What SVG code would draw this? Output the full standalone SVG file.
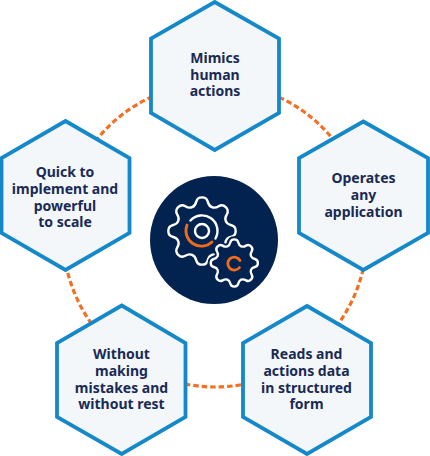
<svg xmlns="http://www.w3.org/2000/svg" width="430" height="456" viewBox="0 0 430 456">
<style>
.hex{fill:#f3f7f9;stroke:#1488c9;stroke-width:3.8;stroke-linejoin:miter}
.lbl{font-family:"Noto Sans","Open Sans",sans-serif;font-weight:700;font-size:14px;fill:#1a2a55;text-anchor:middle}
.gear{fill:none;stroke:#fff;stroke-width:2.4;stroke-linejoin:round;stroke-linecap:round}
.acc{fill:none;stroke:#f26a1b;stroke-width:2.8;stroke-linecap:round}
</style>
<defs>
<path id="cog" d="M33.67 0Q33.67 4.73 29.39 5.73Q25.11 6.73 23.81 9.87Q22.51 13 24.83 16.73Q27.15 20.46 23.81 23.81Q20.46 27.15 16.73 24.83Q13 22.51 9.87 23.81Q6.73 25.11 5.73 29.39Q4.73 33.67 0 33.67Q-4.73 33.67 -5.73 29.39Q-6.73 25.11 -9.87 23.81Q-13 22.51 -16.73 24.83Q-20.46 27.15 -23.81 23.81Q-27.15 20.46 -24.83 16.73Q-22.51 13 -23.81 9.87Q-25.11 6.73 -29.39 5.73Q-33.67 4.73 -33.67 0Q-33.67 -4.73 -29.39 -5.73Q-25.11 -6.73 -23.81 -9.87Q-22.51 -13 -24.83 -16.73Q-27.15 -20.46 -23.81 -23.81Q-20.46 -27.15 -16.73 -24.83Q-13 -22.51 -9.87 -23.81Q-6.73 -25.11 -5.73 -29.39Q-4.73 -33.67 0 -33.67Q4.73 -33.67 5.73 -29.39Q6.73 -25.11 9.87 -23.81Q13 -22.51 16.73 -24.83Q20.46 -27.15 23.81 -23.81Q27.15 -20.46 24.83 -16.73Q22.51 -13 23.81 -9.87Q25.11 -6.73 29.39 -5.73Q33.67 -4.73 33.67 0Z"/>
</defs>
<rect width="430" height="456" fill="#fff"/>
<g id="connectors"><circle cx="215" cy="235" r="152" fill="none" stroke="#f36f21" stroke-width="3.200" stroke-dasharray="5.500 3"/></g>
<g id="hub"><circle cx="214" cy="240" r="64" fill="#02234f"/>
<use href="#cog" class="gear" transform="translate(202 231)"/>
<use href="#cog" fill="#02234f" stroke="#02234f" stroke-width="9" transform="translate(234.300 263) scale(.7)"/>
<use href="#cog" class="gear" style="stroke-width:3.400" transform="translate(234.300 263) scale(.7)"/>
<circle class="gear" cx="202" cy="231" r="7"/>
<path class="gear" d="M190.500 220.500A15.500 15.500 0 0 1 215.500 238.500"/>
<path class="acc" d="M187 225A15.500 15.500 0 0 0 212 242"/>
<path class="acc" d="M240 260.500A6.500 6.500 0 1 0 239.500 267.500"/></g>
<g id="n1"><polygon class="hex" points="214.700,2 279,38.500 279,113 214.700,150 151,113 151,38.500"/>
<text class="lbl"><tspan x="215" y="63">Mimics</tspan><tspan x="215" y="80">human</tspan><tspan x="215" y="96">actions</tspan></text></g>
<g id="n2"><polygon class="hex" points="363.300,121.500 428,158 428,233 363.300,270 299,233 299,158"/>
<text class="lbl"><tspan x="363.500" y="183">Operates</tspan><tspan x="363.500" y="200">any</tspan><tspan x="363.500" y="217">application</tspan></text></g>
<g id="n3"><polygon class="hex" points="307,306 371,343 371,417 307,454 243,417 243,343"/>
<text class="lbl"><tspan x="306.500" y="359">Reads and</tspan><tspan x="306.500" y="376">actions data</tspan><tspan x="306.500" y="393">in structured</tspan><tspan x="306.500" y="409">form</tspan></text></g>
<g id="n4"><polygon class="hex" points="121.700,305.500 185.500,343 185.500,417 121.700,454 57,417 57,343"/>
<text class="lbl"><tspan x="121.500" y="359">Without</tspan><tspan x="121.500" y="376">making</tspan><tspan x="121.500" y="393">mistakes and</tspan><tspan x="121.500" y="409">without rest</tspan></text></g>
<g id="n5"><polygon class="hex" points="65.500,121 129.500,158 129.500,233 65.500,270 1.500,233 1.500,158"/>
<text class="lbl"><tspan x="65" y="177">Quick to</tspan><tspan x="65" y="194">implement and</tspan><tspan x="65" y="211">powerful</tspan><tspan x="65" y="227">to scale</tspan></text></g>
</svg>
